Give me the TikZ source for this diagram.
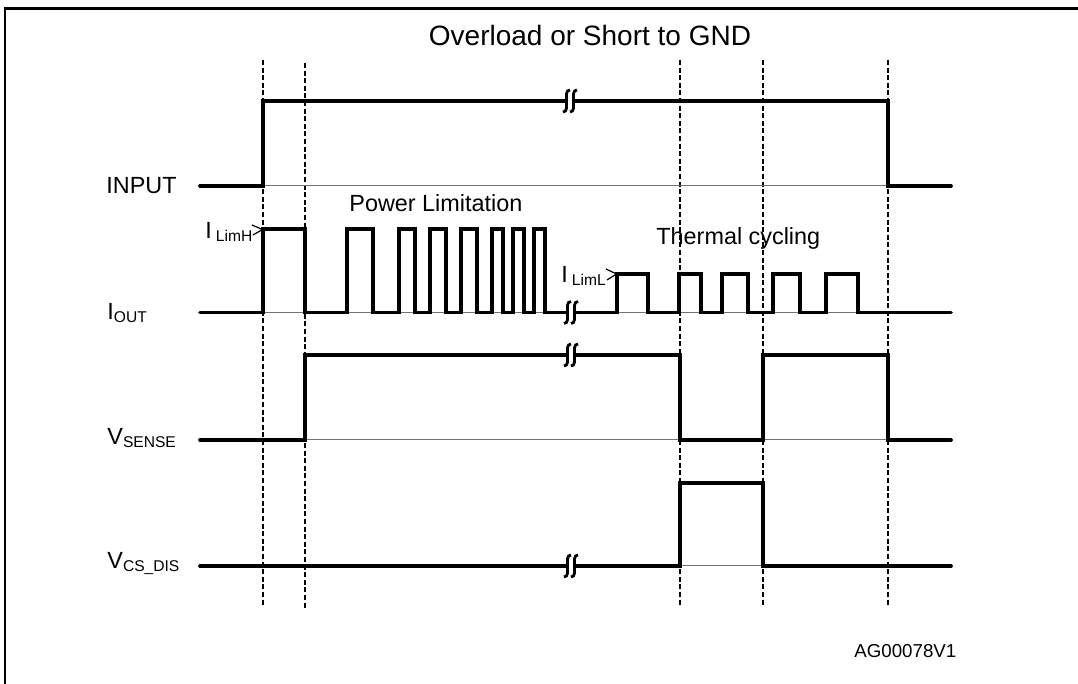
\documentclass[tikz,border=0pt]{standalone}
\usepackage{fontspec}
\setmainfont{Liberation Sans}
\newcommand{\sbs}[1]{\raisebox{-1.2pt}{\fontsize{7.8}{9}\selectfont #1}}
\begin{document}
\begin{tikzpicture}[x=0.5pt,y=-0.5pt,
  sig/.style={line width=1.85pt, line join=miter, line cap=round},
  basel/.style={line width=0.5pt, black!55},
  guide/.style={line width=0.65pt, dash pattern=on 2.5pt off 1.3pt},
  lbl/.style={inner sep=0pt, font=\fontsize{11.7}{14}\selectfont, anchor=base west},
  chev/.style={line width=0.6pt},
  brk/.pic={
    \fill[white] (-3.5,-3.5) rectangle (3.5,3.5);
    \draw[line width=1.4pt] (0,-11) .. controls (-4.5,-11) and (-3.5,-5) .. (-3.5,0)
       .. controls (-3.5,5) and (-2.5,11) .. (-7,11);
    \draw[line width=1.4pt] (7,-11) .. controls (2.5,-11) and (3.5,-5) .. (3.5,0)
       .. controls (3.5,5) and (4.5,11) .. (0,11);
  }]
\useasboundingbox (0,0) rectangle (1078,684);
\fill[white] (0,0) rectangle (1078,684);
% frame
\draw[line width=1.25pt] (5,700) -- (5,8.5) -- (1100,8.5);
% guide lines
\draw[guide] (263,60) -- (263,605);
\draw[guide] (305,63) -- (305,609);
\draw[guide] (680,60) -- (680,605);
\draw[guide] (763,60) -- (763,605);
\draw[guide] (888,60) -- (888,605);
% title
\node[inner sep=0pt, anchor=base, font=\fontsize{14}{17}\selectfont] (title) at (590,45.5) {Overload or Short to GND};
% INPUT
\draw[basel] (200,186) -- (951,186);
\draw[sig] (200,186) -- (263,186) -- (263,101) -- (888,101) -- (888,186) -- (951,186);
\pic at (570,101) {brk};
\node[lbl] (input) at (106,194) {INPUT};
% IOUT
\draw[basel] (200,312.5) -- (951,312.5);
\draw[sig] (200,312.5) -- (263,312.5) -- (263,229) -- (305,229) -- (305,312.5)
  -- (347,312.5) -- (347,229) -- (373,229) -- (373,312.5)
  -- (399,312.5) -- (399,229) -- (415,229) -- (415,312.5)
  -- (430,312.5) -- (430,229) -- (446,229) -- (446,312.5)
  -- (461,312.5) -- (461,229) -- (477,229) -- (477,312.5)
  -- (492,312.5) -- (492,229) -- (503,229) -- (503,312.5)
  -- (513,312.5) -- (513,229) -- (524,229) -- (524,312.5)
  -- (534,312.5) -- (534,229) -- (545,229) -- (545,312.5)
  -- (617,312.5) -- (617,274) -- (648,274) -- (648,312.5)
  -- (679,312.5) -- (679,274) -- (701,274) -- (701,312.5)
  -- (722,312.5) -- (722,274) -- (748,274) -- (748,312.5)
  -- (773,312.5) -- (773,274) -- (800,274) -- (800,312.5)
  -- (826,312.5) -- (826,274) -- (858,274) -- (858,312.5)
  -- (951,312.5);
\pic at (571,312.5) {brk};
\node[lbl] (iout) at (107,320) {I\sbs{OUT}};
\node[lbl] (ilimh) at (205,239) {I\sbs{\hspace{2pt}LimH}};
\draw[chev] (252,225) -- (262.5,229.5) -- (253,235);
\node[lbl] (iliml) at (561,283) {I\sbs{\hspace{2pt}LimL}};
\draw[chev] (606,269) -- (616.5,274) -- (607,280);
\node[lbl] (powlim) at (349,212) {Power Limitation};
\node[lbl] (thermal) at (656,245) {Thermal cycling};
% VSENSE
\draw[basel] (200,440) -- (951,440);
\draw[sig] (200,440) -- (305,440) -- (305,355) -- (680,355) -- (680,440) -- (763,440) -- (763,355) -- (888,355) -- (888,440) -- (951,440);
\pic at (571,355) {brk};
\node[lbl] (vsense) at (107,445) {V\sbs{SENSE}};
% VCS_DIS
\draw[basel] (200,566) -- (951,566);
\draw[sig] (200,566) -- (680,566) -- (680,483) -- (763,483) -- (763,566) -- (951,566);
\pic at (571,566) {brk};
\node[lbl] (vcsdis) at (107,569) {V\sbs{CS\_DIS}};
% code
\node[inner sep=0pt, anchor=base west, font=\fontsize{9.35}{11}\selectfont] (code) at (854,658) {AG00078V1};
\end{tikzpicture}
\end{document}
